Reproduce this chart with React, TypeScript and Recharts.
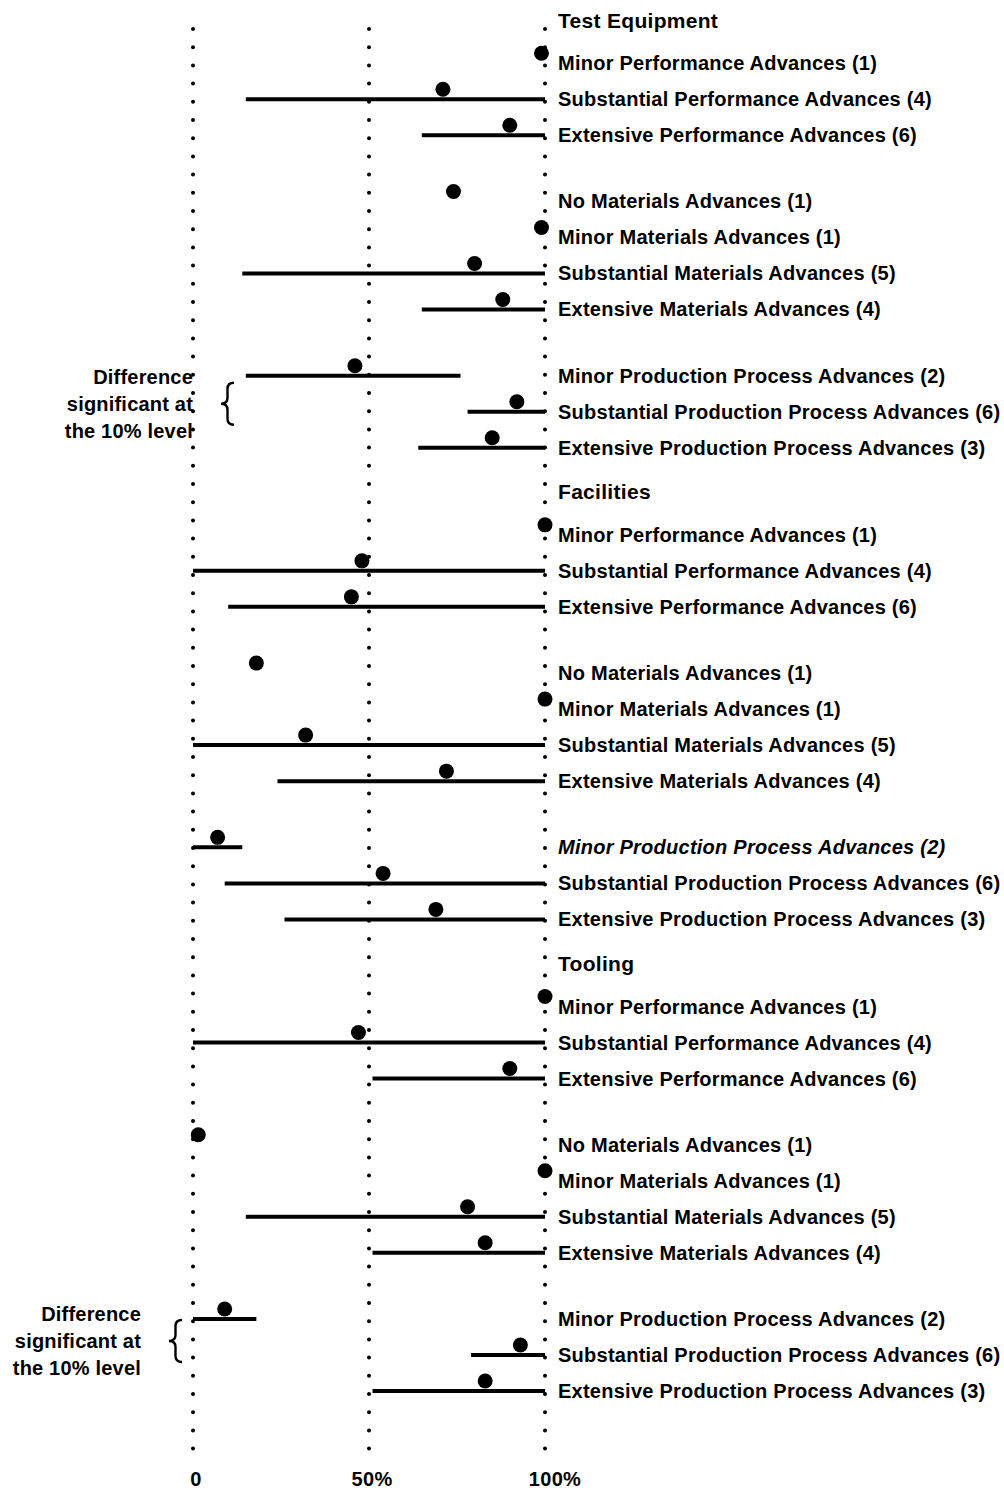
import { ReferenceLine, Scatter, ScatterChart, XAxis, YAxis } from "recharts"

const groups = ["Test Equipment", "Facilities", "Tooling"]

// the same labels repeat under every group, split by kind of advance
const advanceKinds = [
  ["Minor Performance Advances (1)", "Substantial Performance Advances (4)", "Extensive Performance Advances (6)"],
  [
    "No Materials Advances (1)",
    "Minor Materials Advances (1)",
    "Substantial Materials Advances (5)",
    "Extensive Materials Advances (4)",
  ],
  [
    "Minor Production Process Advances (2)",
    "Substantial Production Process Advances (6)",
    "Extensive Production Process Advances (3)",
  ],
]

// percent, one entry per label in reading order; null = no range drawn
const testEquipmentMean = [99, 71, 90, 74, 99, 80, 88, 46, 92, 85]
const testEquipmentLow = [null, 15, 65, null, null, 14, 65, 15, 78, 64]
const testEquipmentHigh = [null, 100, 100, null, null, 100, 100, 76, 100, 100]

const facilitiesMean = [100, 48, 45, 18, 100, 32, 72, 7, 54, 69]
const facilitiesLow = [null, 0, 10, null, null, 0, 24, 0, 9, 26]
const facilitiesHigh = [null, 100, 100, null, null, 100, 100, 14, 100, 100]

const toolingMean = [100, 47, 90, 1.5, 100, 78, 83, 9, 93, 83]
const toolingLow = [null, 0, 51, null, null, 15, 51, 0, 79, 51]
const toolingHigh = [null, 100, 100, null, null, 100, 100, 18, 100, 100]

const xTicks = [0, 50, 100]
const noteLines = ["Difference", "significant at", "the 10% level"]
// groups where the production process rows differ significantly
const notedGroups = ["Test Equipment", "Tooling"]

const means = [testEquipmentMean, facilitiesMean, toolingMean]
const lows = [testEquipmentLow, facilitiesLow, toolingLow]
const highs = [testEquipmentHigh, facilitiesHigh, toolingHigh]

type Row = {
  pos: number
  label: string
  header: boolean
  group: number
  item: number
  mean?: number
  low?: number | null
  high?: number | null
}

// vertical layout in row units: 1 between rows, wider gaps between kinds and groups
const STEP_FIRST = 1.2
const STEP_KIND = 1.84
const STEP_GROUP = 1.22

const rows: Row[] = []
let pos = 0
groups.forEach((g, gi) => {
  if (gi > 0) pos += STEP_GROUP
  rows.push({ pos, label: g, header: true, group: gi, item: -1 })
  let item = 0
  advanceKinds.forEach((kind, ki) => {
    kind.forEach((label, li) => {
      pos += li > 0 ? 1 : ki === 0 ? STEP_FIRST : STEP_KIND
      rows.push({
        pos,
        label,
        header: false,
        group: gi,
        item,
        mean: means[gi][item],
        low: lows[gi][item],
        high: highs[gi][item],
      })
      item++
    })
  })
})

const items = rows.filter((r) => !r.header)
const points = items.map((r) => ({ x: r.mean, y: r.pos }))
const ranges = items.filter((r) => r.low != null && r.high != null)
const rowByPos = new Map(rows.map((r) => [r.pos, r]))
const noteTicks = notedGroups.map((g) => items.find((r) => groups[r.group] === g && r.item === 8)!.pos)

const Y_MAX = 39.69
const FONT = "'Liberation Sans', Arial, Helvetica, sans-serif"
const noteLayout = [
  { dx: 0, dy: -8 },
  { dx: -52, dy: -14 },
]

function RowTick(props: any) {
  const { x, y, payload } = props
  const row = rowByPos.get(payload.value)
  if (!row) return null
  // the minor production row under Facilities is set in italics
  const italic = row.group === 1 && row.item === 7
  return (
    <text
      x={x}
      y={row.header ? y + 7.5 : y + 7}
      textAnchor="start"
      fill="#000"
      fontFamily={FONT}
      fontWeight="bold"
      fontStyle={italic ? "italic" : "normal"}
      fontSize={row.header ? 21 : 20}
      letterSpacing={row.header ? 0.3 : 0.25}
    >
      {row.label}
    </text>
  )
}

function NoteTick(props: any) {
  const { x, y, index } = props
  const { dx, dy } = noteLayout[index] ?? noteLayout[0]
  const right = x + dx
  const cy = y + dy
  const bx = right + 28
  const h = 42
  const w = 13
  const brace = [
    `M${bx + w},${cy - h / 2}`,
    `Q${bx + w / 2},${cy - h / 2} ${bx + w / 2},${cy - h / 2 + 6}`,
    `L${bx + w / 2},${cy - 6}`,
    `Q${bx + w / 2},${cy} ${bx},${cy}`,
    `Q${bx + w / 2},${cy} ${bx + w / 2},${cy + 6}`,
    `L${bx + w / 2},${cy + h / 2 - 6}`,
    `Q${bx + w / 2},${cy + h / 2} ${bx + w},${cy + h / 2}`,
  ].join(" ")
  return (
    <g>
      {noteLines.map((line, i) => (
        <text
          key={line}
          x={right}
          y={cy + (i - 1) * 27 + 7}
          textAnchor="end"
          fill="#000"
          fontFamily={FONT}
          fontWeight="bold"
          fontSize={20}
          letterSpacing={0.2}
        >
          {line}
        </text>
      ))}
      <path d={brace} fill="none" stroke="#000" strokeWidth={2.4} />
    </g>
  )
}

function PercentTick(props: any) {
  const { x, y, payload } = props
  const v = payload.value
  const nudge = v === 100 ? 10 : 3
  return (
    <text
      x={x + nudge}
      y={y + 37}
      textAnchor="middle"
      fill="#000"
      fontFamily={FONT}
      fontWeight="bold"
      fontSize={20}
      letterSpacing={0.3}
    >
      {v === 0 ? "0" : `${v}%`}
    </text>
  )
}

function Dot(props: any) {
  const { cx, cy } = props
  return <circle cx={cx} cy={cy - 10} r={7.5} fill="#000" />
}

export default function App() {
  return (
    <div style={{ position: "absolute", left: 0, top: 0, background: "#fff" }}>
      <ScatterChart width={1004} height={1493} margin={{ top: 20, right: 0, bottom: 0, left: 0 }}>
        <XAxis
          type="number"
          dataKey="x"
          domain={[0, 100]}
          ticks={xTicks}
          interval={0}
          axisLine={false}
          tickLine={false}
          tickSize={0}
          tickMargin={0}
          height={44}
          tick={<PercentTick />}
        />
        <YAxis
          yAxisId="note"
          orientation="left"
          type="number"
          dataKey="y"
          domain={[0, Y_MAX]}
          reversed
          allowDataOverflow
          ticks={noteTicks}
          interval={0}
          axisLine={false}
          tickLine={false}
          tickSize={0}
          tickMargin={0}
          width={193}
          tick={<NoteTick />}
        />
        <YAxis
          yAxisId="rows"
          orientation="right"
          type="number"
          dataKey="y"
          domain={[0, Y_MAX]}
          reversed
          allowDataOverflow
          ticks={rows.map((r) => r.pos)}
          interval={0}
          axisLine={false}
          tickLine={false}
          tickSize={0}
          tickMargin={13}
          width={459}
          tick={<RowTick />}
        />
        {xTicks.map((v) => (
          <ReferenceLine
            key={v}
            yAxisId="rows"
            segment={[
              { x: v, y: 0.25 },
              { x: v, y: Y_MAX },
            ]}
            stroke="#000"
            strokeWidth={4}
            strokeDasharray="0 18.2"
            strokeLinecap="round"
            ifOverflow="visible"
          />
        ))}
        {ranges.map((r) => (
          <ReferenceLine
            key={`${r.group}-${r.item}`}
            yAxisId="rows"
            segment={[
              { x: r.low as number, y: r.pos },
              { x: r.high as number, y: r.pos },
            ]}
            stroke="#000"
            strokeWidth={4}
            ifOverflow="visible"
          />
        ))}
        <Scatter yAxisId="rows" data={points} shape={<Dot />} isAnimationActive={false} />
      </ScatterChart>
    </div>
  )
}
